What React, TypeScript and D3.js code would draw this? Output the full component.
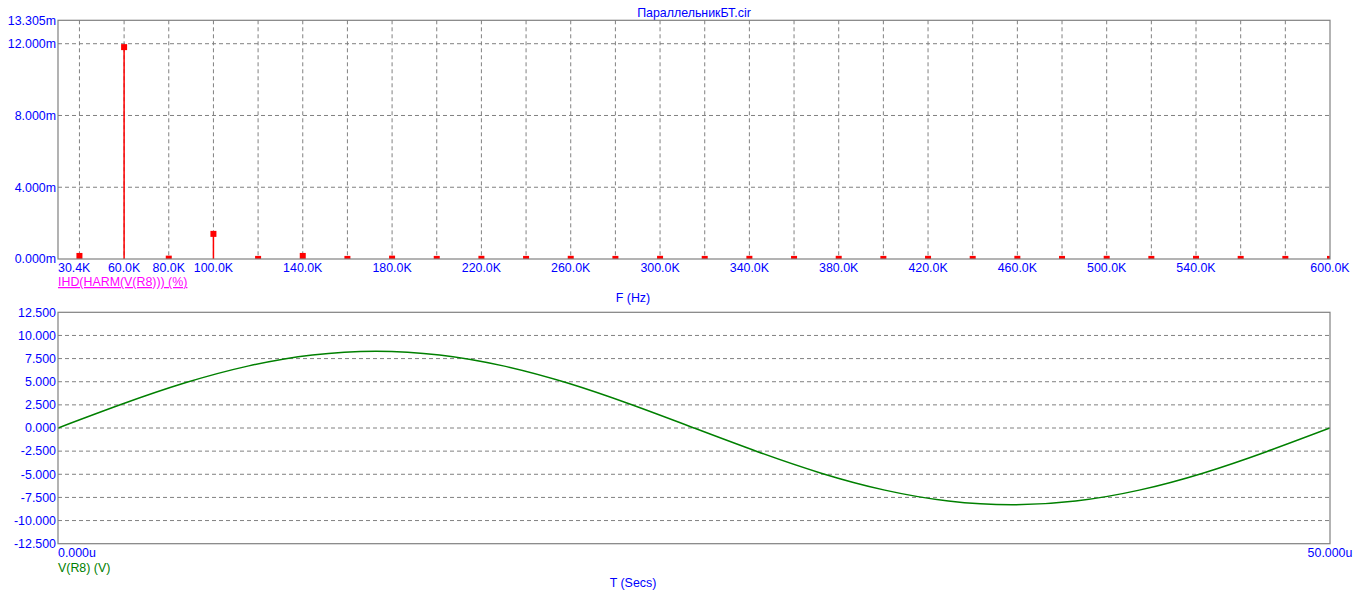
import React from "react";
import * as d3 from "d3";

// ---------- Data ----------
const title = "ПараллельникБТ.cir";

// Harmonic frequencies (kHz) and IHD values (m%)
const harmonicFreqK = [40, 60, 80, 100, 120, 140, 160, 180, 200, 220, 240, 260, 280, 300, 320, 340, 360, 380, 400, 420, 440, 460, 480, 500, 520, 540, 560, 580, 600];
const ihdValues = [0.17, 11.81, 0.02, 1.4, 0.005, 0.17, 0.005, 0.02, 0.005, 0.01, 0.005, 0.01, 0.005, 0.01, 0.005, 0.01, 0.005, 0.01, 0.005, 0.01, 0.005, 0.01, 0.005, 0.01, 0.005, 0.01, 0.005, 0.005, 0.005];

const topXGridK = [40, 60, 80, 100, 120, 140, 160, 180, 200, 220, 240, 260, 280, 300, 320, 340, 360, 380, 400, 420, 440, 460, 480, 500, 520, 540, 560, 580];
const topXLabelsK = [60, 80, 100, 140, 180, 220, 260, 300, 340, 380, 420, 460, 500, 540, 600];
const topYTicks = [12, 8, 4];
const topYLabels = [13.305, 12, 8, 4, 0];

// Transient waveform V(R8), time in µs, volts
const timeUs = [0, 2.5, 5, 7.5, 10, 12.5, 15, 17.5, 20, 22.5, 25, 27.5, 30, 32.5, 35, 37.5, 40, 42.5, 45, 47.5, 50];
const vR8 = [0, 2.56, 4.88, 6.71, 7.89, 8.3, 7.89, 6.71, 4.88, 2.56, 0, -2.56, -4.88, -6.71, -7.89, -8.3, -7.89, -6.71, -4.88, -2.56, 0];

const botYTicks = [12.5, 10, 7.5, 5, 2.5, 0, -2.5, -5, -7.5, -10, -12.5];

// ---------- Layout ----------
const W = 1362;
const H = 604;
const L = 58;
const R = 1330;
const topTop = 20.3;
const topBot = 259;
const botTop = 312.3;
const botBot = 543.7;

const BLUE = "#0000ff";
const GRAY = "#808080";
const FONT = "Arial, 'Liberation Sans', sans-serif";

export default function App() {
  const xTop = d3.scaleLinear().domain([30.4, 600]).range([L, R]);
  const yTop = d3.scaleLinear().domain([0, 13.305]).range([topBot, topTop]);
  const xBot = d3.scaleLinear().domain([0, 50]).range([L, R]);
  const yBot = d3.scaleLinear().domain([-12.5, 12.5]).range([botBot, botTop]);

  const line = d3
    .line<number>()
    .x((_, i) => xBot(timeUs[i]))
    .y((d) => yBot(d))
    .curve(d3.curveNatural);

  const ms = 6;

  return (
    <svg
      width={W}
      height={H}
      style={{ position: "absolute", left: 0, top: 0, background: "#fff" }}
      fontFamily={FONT}
      fontSize={12.4}
    >
      <defs>
        <clipPath id="topClip">
          <rect x={L} y={topTop} width={R - L} height={topBot - topTop} />
        </clipPath>
        <clipPath id="botClip">
          <rect x={L} y={botTop} width={R - L} height={botBot - botTop} />
        </clipPath>
      </defs>

      {/* Title */}
      <text x={(L + R) / 2} y={17} textAnchor="middle" fill={BLUE}>
        {title}
      </text>

      {/* ---------- Top chart ---------- */}
      {topXGridK.map((k) => (
        <line key={"vg" + k} x1={xTop(k)} x2={xTop(k)} y1={topTop} y2={topBot} stroke={GRAY} strokeDasharray="4,3" />
      ))}
      {topYTicks.map((v) => (
        <line key={"hg" + v} x1={L} x2={R} y1={yTop(v)} y2={yTop(v)} stroke={GRAY} strokeDasharray="4,3" />
      ))}
      <g clipPath="url(#topClip)">
        {harmonicFreqK.map((k, i) => (
          <g key={"h" + k}>
            <line x1={xTop(k)} x2={xTop(k)} y1={yTop(0)} y2={yTop(ihdValues[i])} stroke="#ff0000" strokeWidth={1.5} />
            <rect x={xTop(k) - ms / 2} y={yTop(ihdValues[i]) - ms / 2} width={ms} height={ms} fill="#ff0000" />
          </g>
        ))}
      </g>
      <rect x={L} y={topTop} width={R - L} height={topBot - topTop} fill="none" stroke={GRAY} strokeWidth={1.2} />
      {topYLabels.map((v) => (
        <text key={"yl" + v} x={56} y={yTop(v)} dy="0.35em" textAnchor="end" fill={BLUE}>
          {v.toFixed(3) + "m"}
        </text>
      ))}
      <text x={L} y={271.5} textAnchor="start" fill={BLUE}>
        30.4K
      </text>
      {topXLabelsK.map((k) => (
        <text key={"xl" + k} x={xTop(k)} y={271.5} textAnchor="middle" fill={BLUE}>
          {k.toFixed(1) + "K"}
        </text>
      ))}
      <text x={L} y={286} fill="#ff00ff" textDecoration="underline">
        IHD(HARM(V(R8))) (%)
      </text>
      <text x={633} y={302} textAnchor="middle" fill={BLUE}>
        F (Hz)
      </text>

      {/* ---------- Bottom chart ---------- */}
      {botYTicks
        .filter((v) => v !== 12.5 && v !== -12.5)
        .map((v) => (
          <line key={"bg" + v} x1={L} x2={R} y1={yBot(v)} y2={yBot(v)} stroke={GRAY} strokeDasharray="4,3" />
        ))}
      <g clipPath="url(#botClip)">
        <path d={line(vR8) || ""} fill="none" stroke="#008000" strokeWidth={1.5} />
      </g>
      <rect x={L} y={botTop} width={R - L} height={botBot - botTop} fill="none" stroke={GRAY} strokeWidth={1.2} />
      {botYTicks.map((v) => (
        <text key={"byl" + v} x={56} y={yBot(v)} dy="0.35em" textAnchor="end" fill={BLUE}>
          {v.toFixed(3)}
        </text>
      ))}
      <text x={L} y={557} textAnchor="start" fill={BLUE}>
        0.000u
      </text>
      <text x={R} y={557} textAnchor="middle" fill={BLUE}>
        50.000u
      </text>
      <text x={L} y={572} fill="#008000">
        V(R8) (V)
      </text>
      <text x={633} y={587} textAnchor="middle" fill={BLUE}>
        T (Secs)
      </text>
    </svg>
  );
}
